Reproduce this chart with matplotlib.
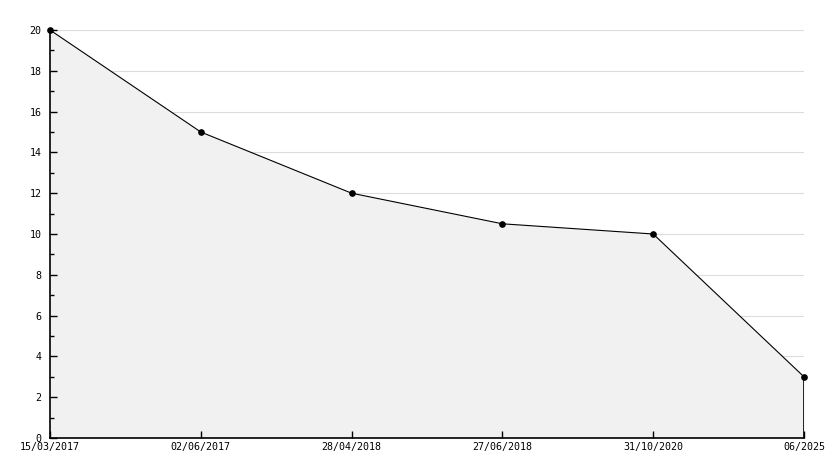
import matplotlib
matplotlib.use("Agg")
import matplotlib.pyplot as plt
from matplotlib.ticker import MultipleLocator

labels = ["15/03/2017", "02/06/2017", "28/04/2018", "27/06/2018", "31/10/2020", "06/2025"]
values = [20, 15, 12, 10.5, 10, 3]

fig = plt.figure(figsize=(8.34, 4.68), dpi=100)
ax = fig.add_axes([50/834, 1-438/468, (804-50)/834, (438-30)/468])
x = list(range(len(labels)))

ax.fill_between(x, values, 0, color="#f1f1f1", zorder=1, linewidth=0)
ax.plot(x, values, color="black", linewidth=0.8, zorder=3)
ax.plot([x[-1], x[-1]], [0, values[-1]], color="black", linewidth=1.2, zorder=3)
ax.plot(x, values, linestyle="none", marker="o", markersize=3.8, color="black", zorder=4, clip_on=False)

ax.set_xlim(0, len(labels)-1)
ax.set_ylim(0, 20)
ax.set_xticks(x)
ax.set_xticklabels(labels)
ax.yaxis.set_major_locator(MultipleLocator(2))
ax.yaxis.set_minor_locator(MultipleLocator(1))
for yv in range(2, 21, 2):
    ax.axhline(yv, color="#dcdcdc", linewidth=0.8, zorder=0)

for s in ["top", "right"]:
    ax.spines[s].set_visible(False)
for s in ["left", "bottom"]:
    ax.spines[s].set_linewidth(1.2)
    ax.spines[s].set_zorder(5)

ax.tick_params(axis="both", direction="in", length=5, width=1, labelsize=7.2)
ax.tick_params(axis="x", pad=3)
ax.tick_params(axis="y", pad=6)
ax.tick_params(axis="y", which="minor", direction="in", length=3, width=1)
for lab in ax.get_xticklabels() + ax.get_yticklabels():
    lab.set_family("DejaVu Sans Mono")
ax.set_facecolor("white")

fig.savefig("out.png", dpi=100)
